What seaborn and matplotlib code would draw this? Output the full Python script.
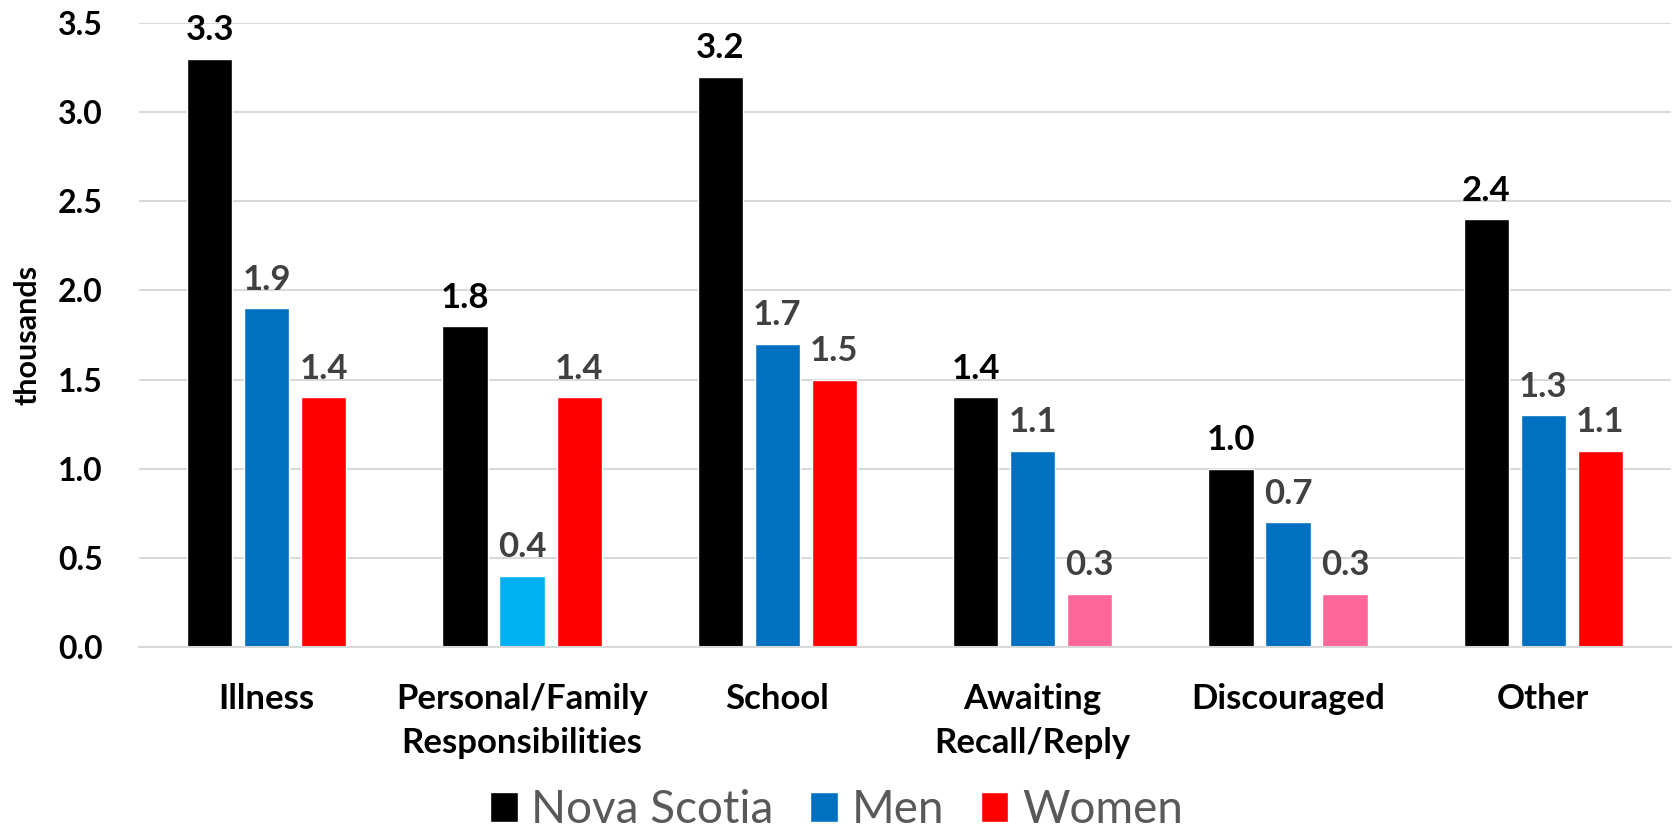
import pandas as pd
import matplotlib
matplotlib.use("Agg")
import matplotlib.pyplot as plt
import seaborn as sns
from matplotlib.patches import Patch

# --- chart data ---
categories = ["Illness", "Personal/Family\nResponsibilities", "School",
              "Awaiting\nRecall/Reply", "Discouraged", "Other"]
nova_scotia = [3.3, 1.8, 3.2, 1.4, 1.0, 2.4]
men = [1.9, 0.4, 1.7, 1.1, 0.7, 1.3]
women = [1.4, 1.4, 1.5, 0.3, 0.3, 1.1]
series = ["Nova Scotia", "Men", "Women"]
# estimates flagged as less reliable get a lighter shade
men_flag = [False, True, False, False, False, False]
women_flag = [False, False, False, True, True, False]

colors = {"Nova Scotia": "#000000", "Men": "#0070C0", "Women": "#FF0000"}
light_colors = {"Men": "#00B0F0", "Women": "#FF6699"}
label_colors = {"Nova Scotia": "#000000", "Men": "#404040", "Women": "#404040"}

df = pd.DataFrame({
    "category": categories * 3,
    "series": [s for s in series for _ in categories],
    "value": nova_scotia + men + women,
})

sns.set_theme(style="white")
plt.rcParams["font.family"] = ["Lato", "DejaVu Sans"]

fig = plt.figure(figsize=(16.73, 8.34), dpi=100)
ax = fig.add_axes([0.0831, 0.2242, 0.9157, 0.7482])

sns.barplot(data=df, x="category", y="value", hue="series", hue_order=series,
            palette=colors, order=categories, width=0.67, gap=0.21,
            saturation=1, errorbar=None, legend=False, ax=ax)

flags = {"Men": men_flag, "Women": women_flag}
for cont, name in zip(ax.containers, series):
    if name in flags:
        for patch, flag in zip(cont.patches, flags[name]):
            if flag:
                patch.set_facecolor(light_colors[name])
    ax.bar_label(cont, fmt="%.1f", padding=9, fontsize=25, fontweight="bold",
                 color=label_colors[name])

ax.set_ylim(0, 3.5)
ax.set_xlim(-0.5, len(categories) - 0.5)
ax.set_yticks([i * 0.5 for i in range(8)])
ax.set_yticklabels([f"{i * 0.5:.1f}" for i in range(8)])
ax.yaxis.grid(True, color="#D9D9D9", linewidth=1.5)
ax.set_axisbelow(True)
for side in ["top", "right", "left"]:
    ax.spines[side].set_visible(False)
ax.spines["bottom"].set_color("#D9D9D9")
ax.spines["bottom"].set_linewidth(1.5)

ax.tick_params(axis="y", length=0, pad=26, labelsize=23)
ax.tick_params(axis="x", length=0, pad=26, labelsize=25)
for lbl in ax.get_xticklabels() + ax.get_yticklabels():
    lbl.set_fontweight("bold")
    lbl.set_color("black")
for lbl in ax.get_xticklabels():
    lbl.set_linespacing(1.45)

ax.set_xlabel("")
ax.set_ylabel("thousands", fontsize=22, fontweight="bold", color="black", labelpad=12)

handles = [Patch(facecolor=colors[s], label=s) for s in series]
fig.legend(handles=handles, loc="lower center", bbox_to_anchor=(0.5, -0.046),
           ncol=3, frameon=False, fontsize=33, labelcolor="#595959",
           handlelength=0.6, handleheight=0.6, handletextpad=0.3, columnspacing=0.8)

fig.savefig("out.png", dpi=100)
